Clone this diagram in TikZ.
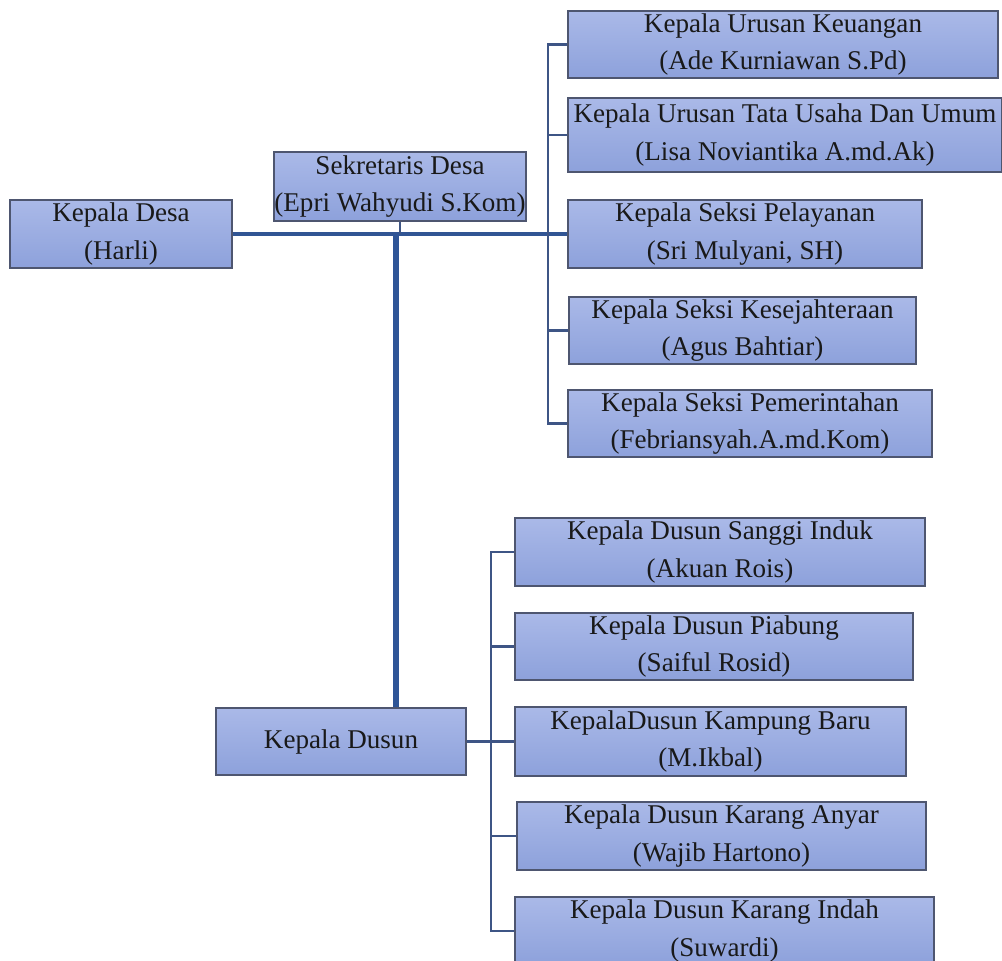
\documentclass[tikz,border=0pt]{standalone}
\usepackage{fontspec}
\setmainfont{Liberation Serif}

\definecolor{boxtop}{HTML}{AAB9E8}
\definecolor{boxbot}{HTML}{8DA1DB}
\definecolor{boxline}{HTML}{4E5670}
\definecolor{trunkblue}{HTML}{2F5597}
\definecolor{linkblue}{HTML}{3E5585}

\begin{document}
\begin{tikzpicture}[x=0.2mm, y=-0.2mm,
        b/.style 2 args={rectangle, draw=boxline, line width=.7pt,
          top color=boxtop, bottom color=boxbot, inner sep=0pt,
          minimum width=#1*0.2mm, minimum height=#2*0.2mm,
          align=center, text=black!90,
          font=\fontsize{15.4}{21.2}\selectfont},
        link/.style={draw=linkblue, line width=1.3pt},
        mainline/.style={draw=trunkblue!85!linkblue, line width=1.9pt},
        trunk/.style={draw=trunkblue, line width=3.2pt}]

      \clip (0,0) rectangle (1002,960);

      % kepala desa and sekretaris
      \node[b={222}{68}] (desa) at (121,234) {Kepala Desa\\(Harli)};
      \node[b={252}{69}] (sek) at (400,186.5) {Sekretaris Desa\\(Epri Wahyudi S.Kom)};

      % kaur and kasi
      \node[b={430}{67}] (keu) at (783,44.5) {Kepala Urusan Keuangan\\(Ade Kurniawan S.Pd)};
      \node[b={434}{74}] (tu) at (785,135) {Kepala Urusan Tata Usaha Dan Umum\\(Lisa Noviantika A.md.Ak)};
      \node[b={354}{68}] (pel) at (745,234) {Kepala Seksi Pelayanan\\(Sri Mulyani, SH)};
      \node[b={347}{67}] (kes) at (742.5,330.5) {Kepala Seksi Kesejahteraan\\(Agus Bahtiar)};
      \node[b={364}{67}] (pem) at (750,423.5) {Kepala Seksi Pemerintahan\\(Febriansyah.A.md.Kom)};

      % kepala dusun
      \node[b={250}{67}] (dusun) at (341,741.5) {Kepala Dusun};
      \node[b={410}{68}] (sanggi) at (720,552) {Kepala Dusun Sanggi Induk\\(Akuan Rois)};
      \node[b={398}{67}] (piabung) at (714,646.5) {Kepala Dusun Piabung\\(Saiful Rosid)};
      \node[b={391}{69}] (kampung) at (710.5,741.5) {KepalaDusun Kampung Baru\\(M.Ikbal)};
      \node[b={409}{68}] (anyar) at (721.5,836) {Kepala Dusun Karang Anyar\\(Wajib Hartono)};
      \node[b={419}{68}] (indah) at (724.5,931) {Kepala Dusun Karang Indah\\(Suwardi)};

      % lines
      \coordinate (j) at (396,234);
      \coordinate (bus) at (548,0);
      \coordinate (bus2) at (491,0);
      \draw[mainline] (desa.east) -- (pel.west);
      \draw[link] (sek.south) -- (sek.south |- j);
      \draw[trunk] (j) -- (j |- dusun.north);
      \draw[link] (keu.west) -- (keu.west -| bus) -- (pem.west -| bus) -- (pem.west);
      \foreach \n in {tu,kes}
        \draw[link] (\n.west) -- (\n.west -| bus);
      \draw[link] (dusun.east) -- (kampung.west);
      \draw[link] (sanggi.west) -- (sanggi.west -| bus2) -- (indah.west -| bus2) -- (indah.west);
      \foreach \n in {piabung,anyar}
        \draw[link] (\n.west) -- (\n.west -| bus2);
    \end{tikzpicture}
\end{document}
